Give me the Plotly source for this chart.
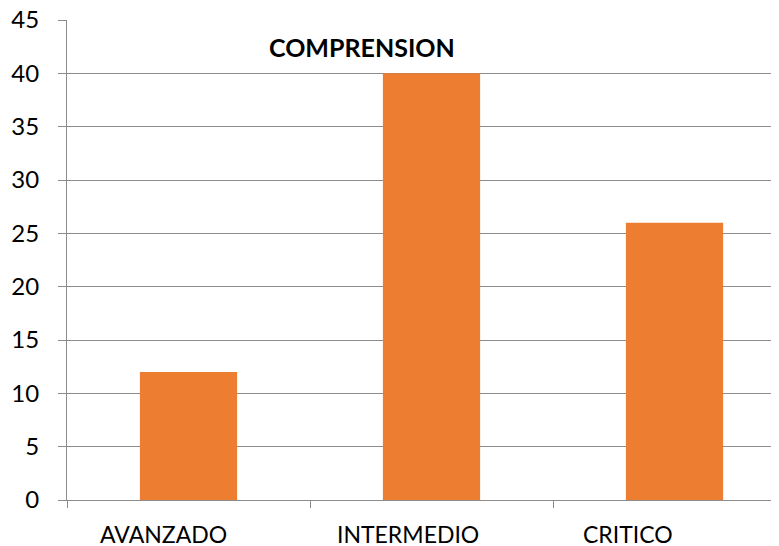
import plotly.graph_objects as go

categories = ["AVANZADO", "INTERMEDIO", "CRITICO"]
values = [12, 40, 26]
y_ticks = [0, 5, 10, 15, 20, 25, 30, 35, 40, 45]

BAR_COLOR = "#ED7D31"
GRID_COLOR = "#8C8C8C"
FONT = "Lato, Open Sans, sans-serif"
# category labels in the original sit left of their bars
LABEL_SHIFT = [-25, -24, -47]

# the page body keeps its default 8px margin, so the figure is shrunk to fit
fig = go.Figure()
fig.add_trace(go.Bar(
    x=categories,
    y=values,
    width=0.4,
    marker=dict(color=BAR_COLOR, line=dict(width=0)),
    hoverinfo="skip",
))

fig.add_annotation(
    text="<b>COMPRENSION</b>",
    xref="paper", yref="paper",
    x=0.415, y=0.944,
    xanchor="center", yanchor="middle",
    showarrow=False,
    font=dict(family=FONT, size=25, color="#000000"),
)

for cat, shift in zip(categories, LABEL_SHIFT):
    fig.add_annotation(
        text=cat,
        xref="x", yref="paper",
        x=cat, y=0,
        xanchor="center", yanchor="top",
        xshift=shift, yshift=-18,
        showarrow=False,
        font=dict(family=FONT, size=23, color="#000000"),
    )

fig.update_layout(
    width=771, height=538,
    paper_bgcolor="white",
    plot_bgcolor="white",
    margin=dict(l=59, r=0, t=12, b=46),
    showlegend=False,
    font=dict(family=FONT, size=23, color="#000000"),
    xaxis=dict(
        range=[-0.5, 2.43],
        showgrid=False,
        showline=True, linecolor=GRID_COLOR, linewidth=1,
        ticks="outside", tickson="boundaries", ticklen=7,
        tickcolor=GRID_COLOR,
        showticklabels=False,
        automargin=False,
    ),
    yaxis=dict(
        range=[0, 45],
        tickvals=y_ticks,
        showgrid=True, gridcolor=GRID_COLOR, gridwidth=1,
        showline=True, linecolor=GRID_COLOR, linewidth=1,
        ticks="outside", ticklen=8, tickcolor=GRID_COLOR,
        ticklabelstandoff=14,
        ticklabeloverflow="allow",
        tickfont=dict(size=24),
        zeroline=False,
        automargin=False,
    ),
)

fig.write_html("out.html")
